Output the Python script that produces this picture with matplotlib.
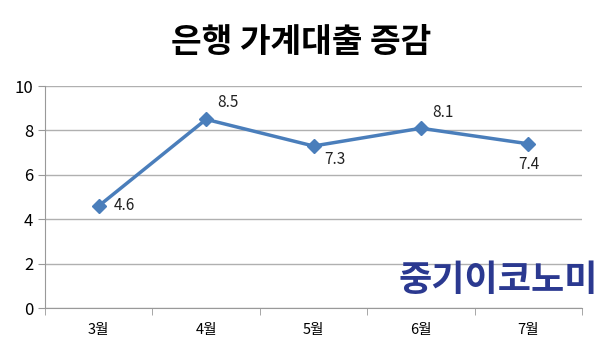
import matplotlib.pyplot as plt

plt.rcParams['font.family'] = ['Noto Sans CJK KR', 'DejaVu Sans']

months = ['3월', '4월', '5월', '6월', '7월']
values = [4.6, 8.5, 7.3, 8.1, 7.4]
# label offsets in points (dx, dy)
label_offsets = [(11, 0), (8, 12), (8, -10), (8, 11), (-7, -15)]

fig = plt.figure(figsize=(6, 3.6), dpi=100)
ax = fig.add_axes([0.075, 0.144, 0.895, 0.617])

x = list(range(len(months)))
ax.plot(x, values, color='#4a7ebb', linewidth=2.5, marker='D', markersize=7, zorder=3)

for xi, v, (dx, dy) in zip(x, values, label_offsets):
    ax.annotate(str(v), (xi, v), xytext=(dx, dy), textcoords='offset points',
                fontsize=11, color='#222222', va='center', ha='left')

ax.set_xlim(-0.5, 4.5)
ax.set_ylim(0, 10)
ax.set_yticks(range(0, 11, 2))
ax.set_xticks(x)
ax.set_xticklabels(months, fontsize=10.5)
ax.set_xticks([i - 0.5 for i in range(len(months) + 1)], minor=True)
ax.tick_params(axis='x', which='major', length=0, pad=11)
ax.tick_params(axis='x', which='minor', length=5, color='#999999')
ax.tick_params(axis='y', length=5, color='#999999', labelsize=12)
ax.grid(axis='y', color='#b0b0b0', linewidth=1)
ax.set_axisbelow(True)
for s in ['top', 'right']:
    ax.spines[s].set_visible(False)
for s in ['left', 'bottom']:
    ax.spines[s].set_color('#999999')

fig.text(0.502, 0.883, '은행 가계대출 증감', ha='center', va='center',
         fontsize=24, fontweight='bold')
fig.text(0.83, 0.22, '중기이코노미', ha='center', va='center',
         fontsize=26, fontweight='bold', color='#2b3990')

fig.savefig('out.png', dpi=100)
